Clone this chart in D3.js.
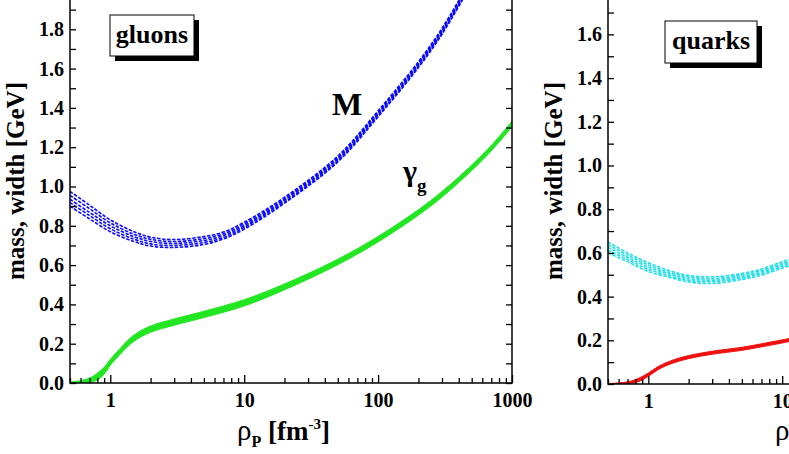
<!DOCTYPE html>
<html>
<head>
<meta charset="utf-8">
<script src="https://cdn.jsdelivr.net/npm/d3@7/dist/d3.min.js"></script>
<style>
  body { margin: 0; background: #fff; }
  svg { display: block; }
</style>
</head>
<body>
<div id="chart"></div>
<script>
// ---- gluons: mass M (bundle of dashed curves) and width gamma_g (band) ----
const rhoMassG = [0.5, 0.7, 1, 1.5, 2, 3, 5, 7, 10, 20, 50, 100, 200, 300, 500, 700];
const massG1 = [0.975, 0.905, 0.830, 0.770, 0.742, 0.730, 0.745, 0.768, 0.818, 0.945, 1.155, 1.385, 1.635, 1.805, 2.065, 2.265];
const massG2 = [0.955, 0.887, 0.815, 0.757, 0.731, 0.720, 0.735, 0.759, 0.809, 0.937, 1.147, 1.377, 1.627, 1.797, 2.057, 2.257];
const massG3 = [0.935, 0.868, 0.800, 0.745, 0.720, 0.710, 0.725, 0.750, 0.800, 0.930, 1.140, 1.370, 1.620, 1.790, 2.050, 2.250];
const massG4 = [0.918, 0.852, 0.785, 0.732, 0.708, 0.700, 0.715, 0.741, 0.792, 0.922, 1.132, 1.362, 1.612, 1.782, 2.042, 2.242];
const massG5 = [0.900, 0.835, 0.770, 0.720, 0.697, 0.690, 0.705, 0.733, 0.783, 0.915, 1.125, 1.355, 1.605, 1.775, 2.035, 2.235];

const rhoWidthG = [0.5, 0.6, 0.7, 0.8, 0.9, 1, 1.2, 1.5, 2, 3, 5, 10, 20, 50, 100, 200, 300, 500, 700, 1000];
const widthGLow = [0.000, 0.000, 0.003, 0.015, 0.045, 0.090, 0.150, 0.212, 0.258, 0.294, 0.333, 0.392, 0.474, 0.602, 0.718, 0.854, 0.946, 1.081, 1.181, 1.304];
const widthGHigh = [0.005, 0.012, 0.025, 0.050, 0.080, 0.120, 0.180, 0.244, 0.290, 0.326, 0.365, 0.424, 0.504, 0.630, 0.746, 0.882, 0.974, 1.109, 1.209, 1.332];

// ---- quarks: mass (cyan dashed bundle) and width (red band) ----
const rhoMassQ = [0.5, 0.7, 1, 1.5, 2, 3, 5, 7, 10, 12];
const massQ1 = [0.650, 0.600, 0.555, 0.515, 0.497, 0.490, 0.506, 0.526, 0.560, 0.575];
const massQ2 = [0.638, 0.590, 0.545, 0.507, 0.490, 0.482, 0.499, 0.519, 0.552, 0.567];
const massQ3 = [0.625, 0.580, 0.535, 0.500, 0.482, 0.475, 0.492, 0.512, 0.545, 0.560];
const massQ4 = [0.612, 0.570, 0.525, 0.492, 0.474, 0.468, 0.485, 0.505, 0.538, 0.553];
const massQ5 = [0.600, 0.560, 0.515, 0.485, 0.467, 0.460, 0.478, 0.498, 0.530, 0.545];

const rhoWidthQ = [0.5, 0.6, 0.7, 0.8, 0.9, 1, 1.2, 1.5, 2, 3, 5, 7, 10, 12];
const widthQLow = [0.000, 0.000, 0.001, 0.006, 0.018, 0.035, 0.068, 0.094, 0.116, 0.136, 0.154, 0.170, 0.188, 0.198];
const widthQHigh = [0.002, 0.005, 0.010, 0.020, 0.034, 0.050, 0.082, 0.108, 0.130, 0.150, 0.168, 0.184, 0.202, 0.212];

// axis ticks (labelled ones; the top tick of each frame sits above the picture)
const xMajor = [1, 10, 100, 1000];
const xMinor = [0.5, 0.6, 0.7, 0.8, 0.9, 2, 3, 4, 5, 6, 7, 8, 9, 20, 30, 40, 50, 60, 70, 80, 90, 200, 300, 400, 500, 600, 700, 800, 900];
const yMajorG = [0, 0.2, 0.4, 0.6, 0.8, 1.0, 1.2, 1.4, 1.6, 1.8];
const yMajorQ = [0, 0.2, 0.4, 0.6, 0.8, 1.0, 1.2, 1.4, 1.6];

const width = 789, height = 454;
const serif = '"Liberation Serif", "Times New Roman", serif';

const svg = d3.select('#chart')
    .append('svg')
    .attr('width', width)
    .attr('height', height)
    .style('font-family', serif);

const zip = (xs, ys) => xs.map((v, i) => [v, ys[i]]);
const smooth = d3.curveCatmullRom.alpha(0.5);

// Draw one panel (frame, axes, width band, mass bundle, titles)
const drawPanel = (id, left, top, bottom, yMax, yMajor, masses, rhoMass, massColor, rhoWidth, wLow, wHigh, widthColor, yLabelX) => {
    const right = left + 442;
    const x = d3.scaleLog().domain([0.5, 1000]).range([left, right]);
    const y = d3.scaleLinear().domain([0, yMax]).range([bottom, top]);
    const yAll = d3.range(0, yMax + 0.01, 0.1);

    svg.append('clipPath')
        .attr('id', `clip-${id}`)
        .append('rect')
        .attr('x', left)
        .attr('y', top)
        .attr('width', right - left)
        .attr('height', bottom - top);

    const plot = svg.append('g').attr('clip-path', `url(#clip-${id})`);

    // width band
    const area = d3.area()
        .x(d => x(d[0]))
        .y0(d => y(d[1]))
        .y1(d => y(d[2]))
        .curve(smooth);

    plot.append('path')
        .datum(rhoWidth.map((r, i) => [r, wLow[i], wHigh[i]]))
        .attr('d', area)
        .attr('fill', widthColor)
        .attr('stroke', widthColor)
        .attr('stroke-width', 1);

    // mass bundle
    const line = d3.line()
        .x(d => x(d[0]))
        .y(d => y(d[1]))
        .curve(smooth);

    masses.forEach(m => {
        plot.append('path')
            .datum(zip(rhoMass, m))
            .attr('d', line)
            .attr('fill', 'none')
            .attr('stroke', massColor)
            .attr('stroke-width', 1.6)
            .attr('stroke-dasharray', '3.5,1.5');
    });

    // axes, ticks pointing into the frame
    const styleAxis = g => {
        g.select('.domain').remove();
        g.selectAll('line').attr('stroke', '#000').attr('stroke-width', 1.3);
        g.selectAll('text')
            .attr('fill', '#000')
            .style('font-family', serif)
            .style('font-weight', 'bold')
            .style('font-size', '20px');
    };

    svg.append('g')
        .attr('transform', `translate(${left},0)`)
        .call(d3.axisLeft(y).tickValues(yMajor).tickSize(0)
            .tickPadding(6).tickFormat(d3.format('.1f')))
        .call(styleAxis);

    svg.append('g')
        .attr('transform', `translate(${left},0)`)
        .call(d3.axisLeft(y).tickValues(yAll).tickSize(-6).tickFormat(''))
        .call(styleAxis);

    svg.append('g')
        .attr('transform', `translate(${right},0)`)
        .call(d3.axisRight(y).tickValues(yAll).tickSize(-6).tickFormat(''))
        .call(styleAxis);

    svg.append('g')
        .attr('transform', `translate(0,${bottom})`)
        .call(d3.axisBottom(x).tickValues(xMajor).tickSizeInner(-8).tickSizeOuter(0)
            .tickPadding(10).tickFormat(d3.format('d')))
        .call(styleAxis);

    svg.append('g')
        .attr('transform', `translate(0,${bottom})`)
        .call(d3.axisBottom(x).tickValues(xMinor).tickSize(-5).tickFormat(''))
        .call(styleAxis);

    // frame
    svg.append('rect')
        .attr('x', left)
        .attr('y', top)
        .attr('width', right - left)
        .attr('height', bottom - top)
        .attr('fill', 'none')
        .attr('stroke', '#000')
        .attr('stroke-width', 1.5);

    // y axis title
    svg.append('text')
        .attr('transform', `translate(${yLabelX},181) rotate(-90)`)
        .attr('text-anchor', 'middle')
        .style('font-weight', 'bold')
        .style('font-size', '25px')
        .text('mass, width [GeV]');

    // x axis title: rho_P [fm^-3]
    const xt = svg.append('text')
        .attr('x', left + 167)
        .attr('y', 440)
        .style('font-size', '27px');
    xt.append('tspan').style('font-size', '29px').text('ρ');
    xt.append('tspan').attr('dy', 7).style('font-size', '16px').style('font-weight', 'bold').text('P');
    xt.append('tspan').attr('dy', -7).style('font-weight', 'bold').text(' [fm');
    xt.append('tspan').attr('dy', -11).style('font-size', '15px').style('font-weight', 'bold').text('-3');
    xt.append('tspan').attr('dy', 11).style('font-weight', 'bold').text(']');
};

// boxed title with a drop shadow
const titleBox = (label, bx, by, bw, bh) => {
    svg.append('rect')
        .attr('x', bx + 5).attr('y', by + 5)
        .attr('width', bw).attr('height', bh)
        .attr('fill', '#000');
    svg.append('rect')
        .attr('x', bx).attr('y', by)
        .attr('width', bw).attr('height', bh)
        .attr('fill', '#fff')
        .attr('stroke', '#000')
        .attr('stroke-width', 1);
    svg.append('text')
        .attr('x', bx + bw / 2)
        .attr('y', by + 28)
        .attr('text-anchor', 'middle')
        .style('font-weight', 'bold')
        .style('font-size', '26px')
        .text(label);
};

drawPanel('g', 70, -10, 383, 2.0, yMajorG,
    [massG1, massG2, massG3, massG4, massG5], rhoMassG, '#0a0aff',
    rhoWidthG, widthGLow, widthGHigh, '#22e622', 24);

drawPanel('q', 608, -9.3, 384, 1.8, yMajorQ,
    [massQ1, massQ2, massQ3, massQ4, massQ5], rhoMassQ, '#22e0e8',
    rhoWidthQ, widthQLow, widthQHigh, '#f01010', 562);

titleBox('gluons', 110, 15, 84, 41);
titleBox('quarks', 665, 21, 92, 42);

// curve labels in the gluon panel
svg.append('text')
    .attr('x', 332)
    .attr('y', 115)
    .style('font-weight', 'bold')
    .style('font-size', '32px')
    .text('M');

const gl = svg.append('text')
    .attr('x', 403)
    .attr('y', 181)
    .style('font-size', '30px')
    .style('font-weight', 'bold');
gl.append('tspan').text('γ');
gl.append('tspan').attr('dy', 11).style('font-size', '19px').text('g');
</script>
</body>
</html>
